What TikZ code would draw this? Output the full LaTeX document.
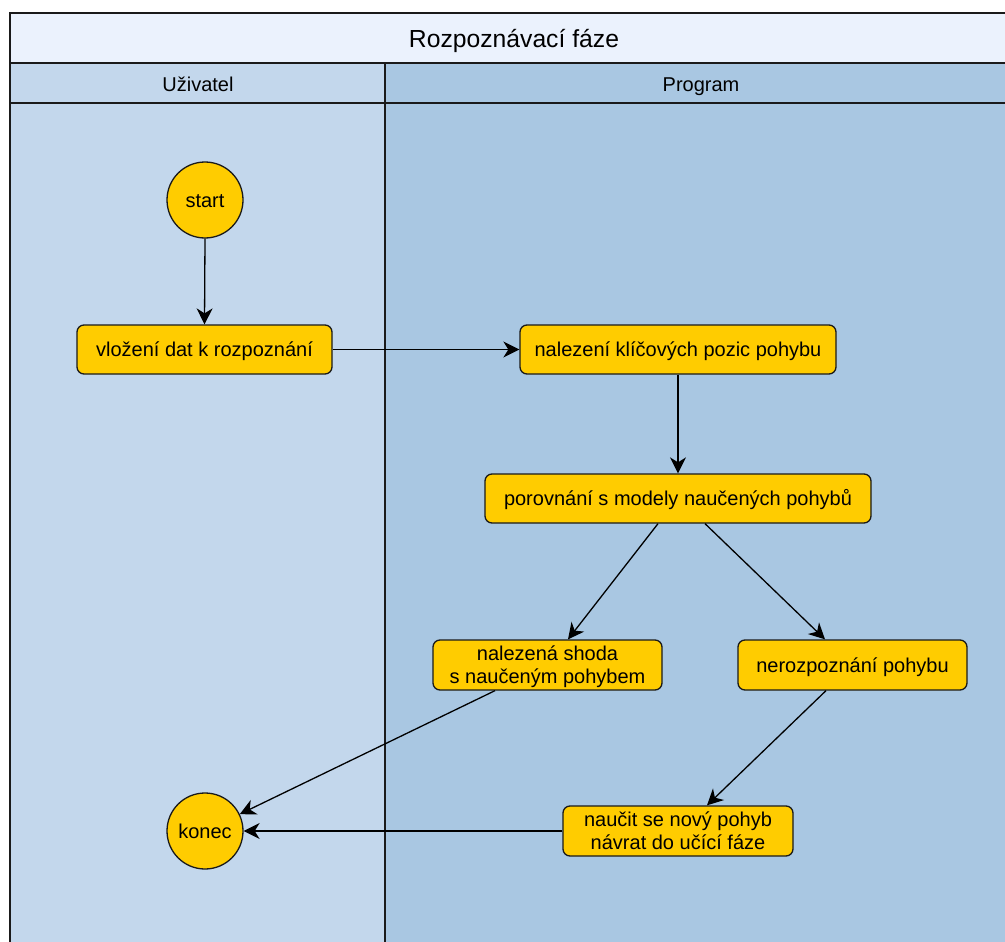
\documentclass[tikz,border=0pt]{standalone}
\usepackage{fontspec}
\setmainfont{Liberation Sans}
\usetikzlibrary{arrows.meta,calc}

\definecolor{titlefill}{HTML}{EBF2FD}
\definecolor{userlane}{HTML}{C3D7EC}
\definecolor{proglane}{HTML}{A9C7E2}
\definecolor{actfill}{HTML}{FFCC00}
\definecolor{edge}{HTML}{1A1A1A}

\tikzset{
  frameline/.style={draw=edge, line width=1.3pt},
  act/.style={rectangle, rounded corners=7pt, draw=edge, fill=actfill,
    line width=1.3pt, align=center, inner sep=0pt,
    text height=18pt, text depth=4pt,
    font=\fontsize{20}{23.5}\selectfont},
  twoline/.style={text height=41.5pt, text depth=4pt},
  term/.style={circle, draw=edge, fill=actfill, line width=1.3pt,
    minimum size=76pt, inner sep=0pt, text height=18pt, text depth=4pt,
    font=\fontsize{20}{24}\selectfont},
  flow/.style={draw=black, line width=1.3pt,
    -{Stealth[length=16pt, width=16pt, inset=5pt]}},
  lanehead/.style={anchor=base, font=\fontsize{20}{24}\selectfont},
}

\begin{document}
\begin{tikzpicture}[x=1pt, y=-1pt]
  \useasboundingbox (0,0) rectangle (1005,942);
  \clip (0,0) rectangle (1005,942);
  \fill[white] (0,0) rectangle (1005,942);

  % pool with title bar and two lanes
  \fill[titlefill] (10,13) rectangle (1030,63);
  \fill[userlane] (10,63) rectangle (385,960);
  \fill[proglane] (385,63) rectangle (1030,960);
  \draw[frameline] (10,960) -- (10,13) -- (1030,13);
  \draw[frameline] (10,63) -- (1030,63);
  \draw[frameline] (10,103) -- (1030,103);
  \draw[frameline] (385,63) -- (385,960);

  \node[anchor=base, font=\fontsize{24.7}{29}\selectfont] (title) at (514,48) {Rozpoznávací fáze};
  \node[lanehead] (hUser) at (198,91.5) {Uživatel};
  \node[lanehead] (hProg) at (701,91.5) {Program};

  % activities
  \node[term] (start) at (205,200) {start};
  \node[act, minimum width=255pt, minimum height=49pt] (vlozeni) at (204.5,349.5) {vložení dat k rozpoznání};
  \node[act, minimum width=316pt, minimum height=49pt] (nalezeni) at (678,349.5) {nalezení klíčových pozic pohybu};
  \node[act, minimum width=386pt, minimum height=49pt] (porovnani) at (678,498.5) {porovnání s modely naučených pohybů};
  \node[act, twoline, minimum width=229pt, minimum height=50pt] (shoda) at (547.5,665) {nalezená shoda\\ s naučeným pohybem};
  \node[act, minimum width=229pt, minimum height=50pt] (nerozp) at (852.5,665) {nerozpoznání pohybu};
  \node[act, twoline, minimum width=230pt, minimum height=50pt] (naucit) at (678,831) {naučit se nový pohyb\\návrat do učící fáze};
  \node[term] (konec) at (205,831) {konec};

  % control flow
  \draw[flow] (start.south) -- (vlozeni.north);
  \draw[flow] (vlozeni.east) -- (nalezeni.west);
  \draw[flow] (nalezeni.south) -- (porovnani.north);
  \draw[flow] ($(porovnani.south)+(-20,0)$) -- ($(shoda.north)+(20.5,0)$);
  \draw[flow] ($(porovnani.south)+(27,0)$) -- ($(nerozp.north)+(-27.5,0)$);
  \draw[flow] ($(shoda.south)+(-52.5,0)$) -- (konec);
  \draw[flow] ($(nerozp.south)+(-26.5,0)$) -- ($(naucit.north)+(29,0)$);
  \draw[flow] (naucit.west) -- (konec.east);
\end{tikzpicture}
\end{document}
